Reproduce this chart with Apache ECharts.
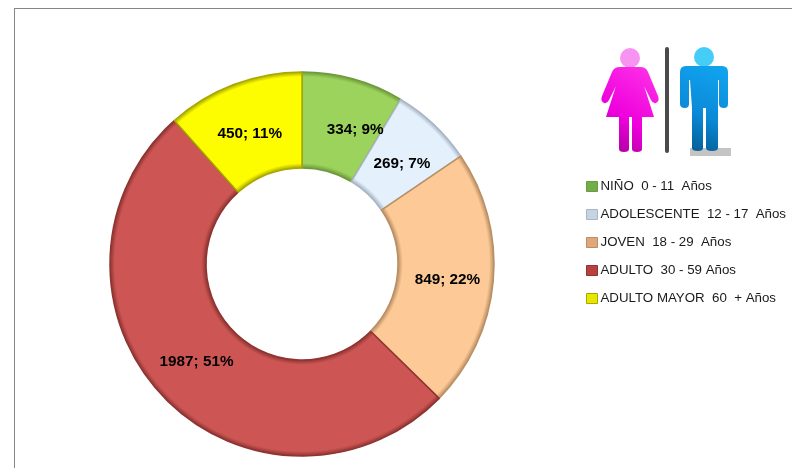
<!DOCTYPE html>
<html>
<head>
<meta charset="utf-8">
<script src="https://cdn.jsdelivr.net/npm/echarts@6/dist/echarts.min.js"></script>
<style>
html,body{margin:0;padding:0;background:#fff;}
#main{width:792px;height:468px;}
</style>
</head>
<body>
<div id="main"></div>
<script>
var categories = ['NIÑO  0 - 11  Años','ADOLESCENTE  12 - 17  Años','JOVEN  18 - 29  Años','ADULTO  30 - 59 Años','ADULTO MAYOR  60  + Años'];
var values = [334,269,849,1987,450];
var fills = ['#9bd35c','#e4f0fc','#fdc997','#cd5654','#fdfd00'];
var edges = ['#6f9a3c','#a9b6c6','#b98f63','#8e3432','#a8a800'];
var legendColors = ['#6fae4a','#c6d3e2','#e0a878','#b8403e','#e6e600'];
var labelShift = [[14,7],[-1,7],[-1,3],[1,-4],[0,7]];

var cx = 302, cy = 264, rOuter = 192, rInner = 96;
var innerStop = rInner/rOuter;

function ringFill(fill,edge){
	// darker rim on both edges of the ring, for the bevel look
	return {
		type:'radial', x:cx, y:cy, r:rOuter, global:true,
		colorStops:[
			{offset:0,color:edge},
			{offset:innerStop,color:edge},
			{offset:innerStop+0.025,color:fill},
			{offset:0.975,color:fill},
			{offset:1,color:edge}
		]
	};
}

var pieData = values.map(function(v,i){
	return {
		name:categories[i],
		value:v,
		itemStyle:{color:ringFill(fills[i],edges[i]),borderColor:edges[i]}
	};
});

//the two figures are plain decoration, graphic has no 'path' type so register them
var woman = 'M620 67 L640 67 Q646 67 648 72 L658 96 Q660 101 656 103 Q653 104 651 100 L640 78 L641.5 78 L654 117 L642 117 L642 149 Q642 152 637 152 Q632 152 632 149 L632 117 L629 117 L629 149 Q629 152 624 152 Q619 152 619 149 L619 117 L606 117 L618.5 78 L620 78 L609 100 Q607 104 604 103 Q600 101 602 96 L612 72 Q614 67 620 67 Z';
var man = 'M686 66 L722 66 Q728 66 728 72 L728 104 Q728 108 724 108 Q719 108 719 104 L719 80 L718 80 L718 148 Q718 151 712 151 Q706 151 706 148 L706 108 L703 108 L703 148 Q703 151 698 151 Q692 151 692 148 L692 108 L690 80 L689 80 L689 104 Q689 108 685 108 Q680 108 680 104 L680 72 Q680 66 686 66 Z';
echarts.graphic.registerShape('womanFigure',echarts.graphic.extendPath(woman,{}));
echarts.graphic.registerShape('manFigure',echarts.graphic.extendPath(man,{}));

var option = {
	backgroundColor:'#fff',
	animation:false,
	legend:{
		orient:'vertical',
		left:581,
		top:175,
		itemWidth:11,
		itemHeight:10,
		itemGap:15,
		icon:'rect',
		selectedMode:false,
		textStyle:{fontFamily:'Liberation Sans',fontSize:13.3,color:'#1a1a1a',padding:[0,0,0,-2]},
		data:categories.map(function(c,i){
			return {name:c,itemStyle:{color:legendColors[i],borderColor:edges[i],borderWidth:1}};
		})
	},
	series:[{
		type:'pie',
		center:[cx,cy],
		radius:[rInner,rOuter],
		startAngle:90,
		clockwise:true,
		percentPrecision:0,
		avoidLabelOverlap:false,
		itemStyle:{borderWidth:1.5},
		label:{
			show:true,
			position:'inside',
			formatter:'{c}; {d}%',
			fontFamily:'Liberation Sans',
			fontWeight:'bold',
			fontSize:15.3,
			color:'#000'
		},
		labelLine:{show:false},
		labelLayout:function(params){
			return {dx:labelShift[params.dataIndex][0],dy:labelShift[params.dataIndex][1]};
		},
		data:pieData
	}],
	graphic:[
		{type:'line',silent:true,shape:{x1:14,y1:8.5,x2:792,y2:8.5},style:{stroke:'#868686',lineWidth:1}},
		{type:'line',silent:true,shape:{x1:14.5,y1:8,x2:14.5,y2:468},style:{stroke:'#868686',lineWidth:1}},
		{type:'rect',silent:true,shape:{x:690,y:148,width:41,height:8},style:{fill:'#c4c4c4'}},
		{type:'circle',silent:true,shape:{cx:630,cy:58,r:10},style:{fill:'#f794f2'}},
		{type:'womanFigure',silent:true,style:{fill:{type:'linear',x:1,y:0,x2:0,y2:1,colorStops:[{offset:0,color:'#ff35e8'},{offset:0.6,color:'#ee00dc'},{offset:1,color:'#a00090'}]}}},
		{type:'line',silent:true,shape:{x1:667,y1:49,x2:667,y2:151},style:{stroke:'#4a4a4a',lineWidth:4,lineCap:'round'}},
		{type:'circle',silent:true,shape:{cx:704,cy:57,r:10},style:{fill:'#45cdf8'}},
		{type:'manFigure',silent:true,style:{fill:{type:'linear',x:1,y:0,x2:0.3,y2:1,colorStops:[{offset:0,color:'#12a5f0'},{offset:0.6,color:'#0a8ad8'},{offset:1,color:'#045f96'}]}}}
	]
};

var myChart = echarts.init(document.getElementById('main'),null,{renderer:'canvas'});
myChart.setOption(option);
</script>
</body>
</html>
